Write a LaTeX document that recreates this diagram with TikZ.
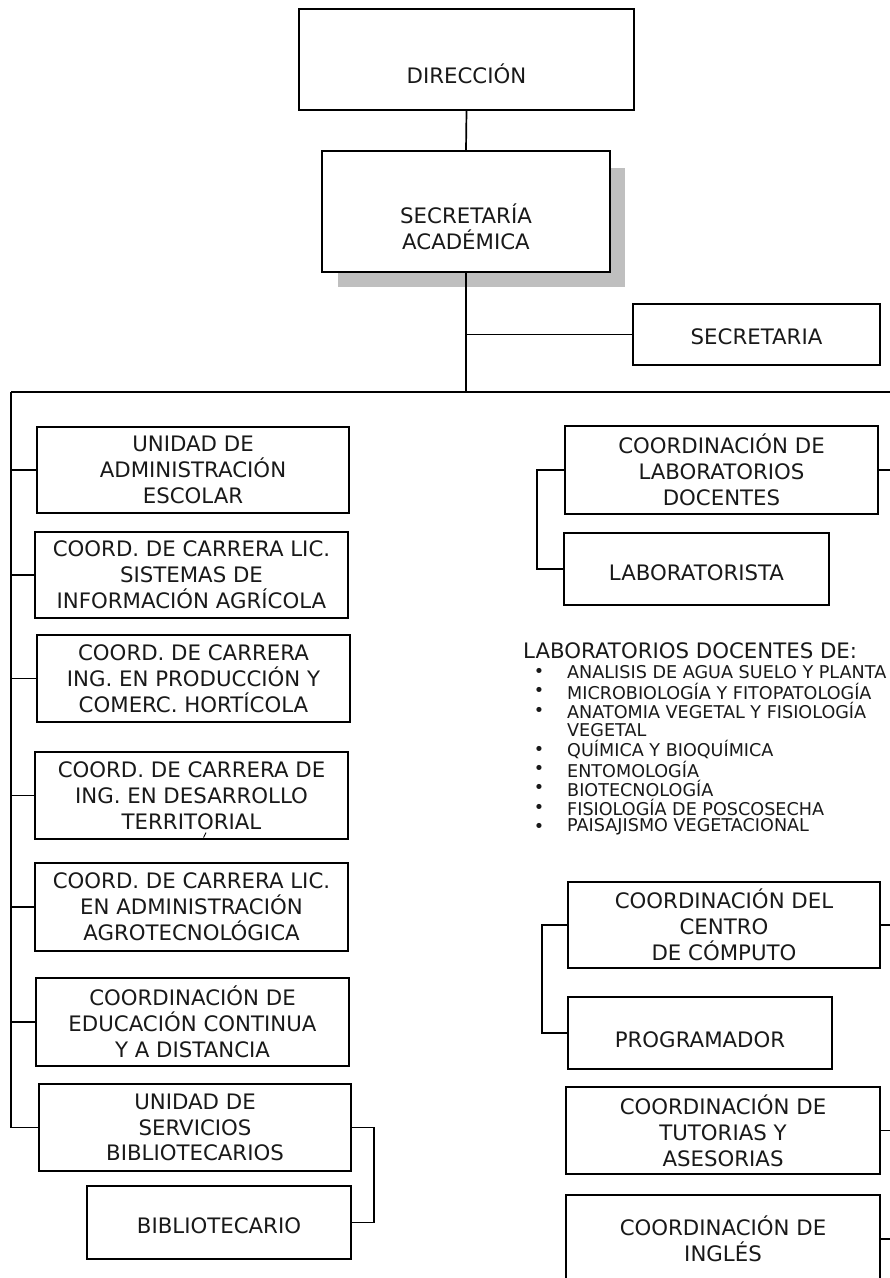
\documentclass[tikz,border=0pt]{standalone}
\usepackage{fontspec}
\setmainfont{DejaVu Sans}
\newcommand\orgfont{\fontsize{21.3}{25.8}\selectfont}
\newcommand\orglistfont{\fontsize{17.6}{19.4}\selectfont}
\begin{document}
\begin{tikzpicture}[x=1pt,y=-1pt,
  box/.style={draw=black, line width=1.8pt, fill=white, inner sep=0pt, align=center, font=\orgfont, text=black!90},
  lbl/.style={inner sep=0pt, align=center, font=\orgfont, text=black!90},
  conn/.style={draw=black, line width=1.7pt},
  itm/.style={inner sep=0pt, anchor=west, font=\orglistfont, text=black!90},
  bul/.style={inner sep=0pt, font=\orglistfont, text=black!90}]
\useasboundingbox (0,0) rectangle (890,1278);
\clip (0,0) rectangle (890,1278);
\fill[white] (0,0) rectangle (890,1278);

% top
\node[box, minimum width=335, minimum height=101] (dir) at (466.5,59.5) {};
\node[lbl] (dirt) at (466.5,74) {DIRECCIÓN};
\fill[black!25] (338,168) rectangle (625,287);
\node[box, minimum width=288, minimum height=121] (sec) at (466,211.5) {};
\node[lbl] (sect) at (466,227) {SECRETARÍA\\ACADÉMICA};
\node[box, minimum width=247, minimum height=61] (secr) at (756.5,334.5) {};
\node[lbl] (secrt) at (756.5,337) {SECRETARIA};

\coordinate (bar) at (466,392);
\coordinate (lv) at (11,392);
\coordinate (rv) at (895,392);

% left column
\node[box, minimum width=312, minimum height=86] (l1) at (193,470) {UNIDAD DE\\ADMINISTRACIÓN\\ESCOLAR};
\node[box, minimum width=313, minimum height=86] (l2) at (191.5,575) {COORD. DE CARRERA LIC.\\SISTEMAS DE\\INFORMACIÓN AGRÍCOLA};
\node[box, minimum width=313, minimum height=87] (l3) at (193.5,678.5) {COORD. DE CARRERA\\ING. EN PRODUCCIÓN Y\\COMERC. HORTÍCOLA};
\node[box, minimum width=313, minimum height=87] (l4) at (191.5,795.5) {COORD. DE CARRERA DE\\ING. EN DESARROLLO\\TERRITORIAL};
\node[box, minimum width=313, minimum height=88] (l5) at (191.5,907) {COORD. DE CARRERA LIC.\\EN ADMINISTRACIÓN\\AGROTECNOLÓGICA};
\node[box, minimum width=313, minimum height=88] (l6) at (192.5,1022) {COORDINACIÓN DE\\EDUCACIÓN CONTINUA\\Y A DISTANCIA};
\node[box, minimum width=312, minimum height=87] (l7) at (195,1127.5) {UNIDAD DE\\SERVICIOS\\BIBLIOTECARIOS};
\node[box, minimum width=264, minimum height=73] (bib) at (219,1222.5) {};
\node[lbl] (bibt) at (219,1226) {BIBLIOTECARIO};
\draw[line width=0.9pt] (203.5,837.5) -- (206,832.5);

% right column
\node[box, minimum width=313, minimum height=88] (r1) at (721.5,470) {COORDINACIÓN DE\\LABORATORIOS\\DOCENTES};
\node[box, minimum width=265, minimum height=72] (lab) at (696.5,569) {};
\node[lbl] (labt) at (696.5,573) {LABORATORISTA};

\node[itm, font=\orgfont] (lh) at (523,651) {LABORATORIOS DOCENTES DE:};
\foreach \t [count=\i from 0] in {ANALISIS DE AGUA SUELO Y PLANTA,MICROBIOLOGÍA Y FITOPATOLOGÍA,ANATOMIA VEGETAL Y FISIOLOGÍA,VEGETAL,QUÍMICA Y BIOQUÍMICA,ENTOMOLOGÍA,BIOTECNOLOGÍA,FISIOLOGÍA DE POSCOSECHA,PAISAJISMO VEGETACIONAL}{
  \node[itm] (it\i) at (567,672+19.4*\i) {\t};
}
\foreach \i in {0,1,2,4,5,6,7,8}{
  \node[bul] (b\i) at (539,673+19.4*\i) {•};
}

\node[box, minimum width=312, minimum height=86] (r2) at (724,925) {COORDINACIÓN DEL\\CENTRO\\DE CÓMPUTO};
\node[box, minimum width=264, minimum height=72] (prog) at (700,1033) {};
\node[lbl] (progt) at (700,1040) {PROGRAMADOR};
\node[box, minimum width=314, minimum height=87] (r3) at (723,1130.5) {COORDINACIÓN DE\\TUTORIAS Y\\ASESORIAS};
\node[box, minimum width=314, minimum height=110] (r4) at (723,1250) {};
\node[lbl] (r4t) at (723,1239) {COORDINACIÓN DE\\INGLÉS};

% connectors
\draw[conn] (dir.south) -- (sec.north);
\draw[conn] (sec.south) -- (bar);
\draw[conn] (sec.south |- secr.west) -- (secr.west);
\draw[conn] (lv) -- (rv);
\draw[conn] (lv) -- (lv |- l7.west) -- (l7.west);
\foreach \n in {l1,l2,l3,l4,l5,l6}{
  \draw[conn] (lv |- \n.west) -- (\n.west);
}
\draw[conn] (l7.east) -- ++(22,0) |- (bib.east);
\draw[conn] (r1.west) -- ++(-27,0) |- (lab.west);
\draw[conn] (r2.west) -- ++(-25,0) |- (prog.west);
\foreach \n in {r1,r2,r3}{
  \draw[conn] (\n.east) -- (\n.east -| rv);
}
\draw[conn] (r4t.east -| r4.east) -- (r4t.east -| rv);
\end{tikzpicture}
\end{document}
